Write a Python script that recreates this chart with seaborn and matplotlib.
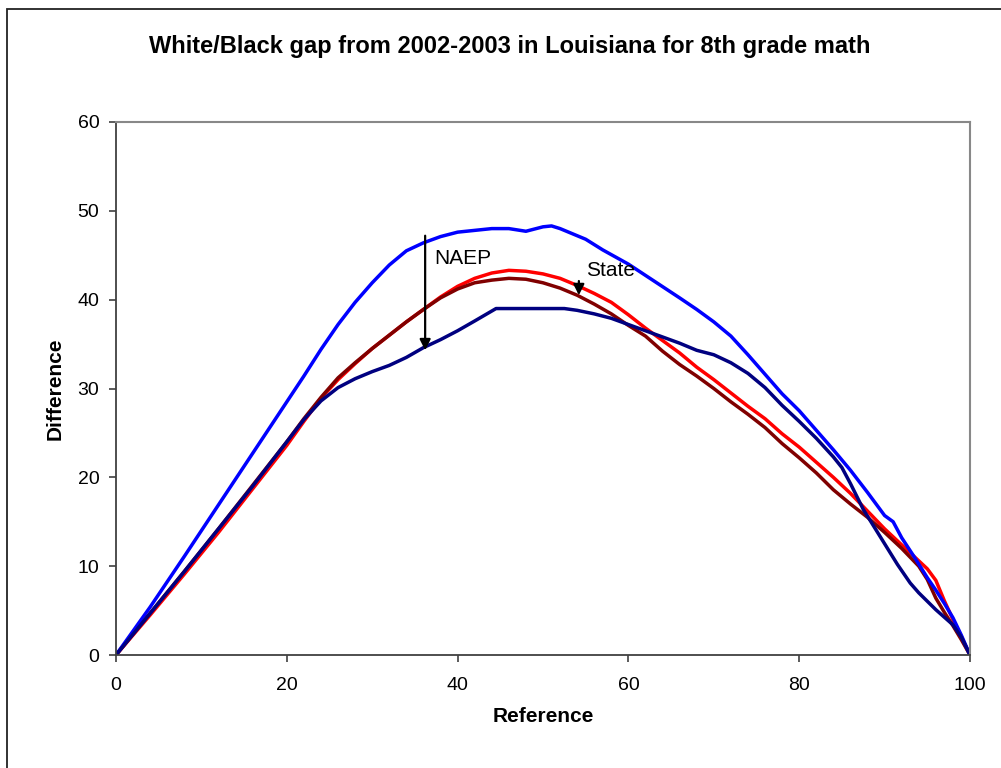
import matplotlib
matplotlib.use("Agg")
import matplotlib.pyplot as plt
from matplotlib.patches import Rectangle
import seaborn as sns

# Gap curves (difference vs. reference percentile)
naep_white_x = [0, 4, 8, 12, 16, 20, 22, 24, 26, 28, 30, 32, 34, 36, 38, 40, 42, 44, 46, 48,
                50, 51, 52, 53, 55, 57, 60, 63, 66, 68, 70, 72, 74, 76, 78, 80, 82, 84, 86,
                88, 90, 91, 92, 93.5, 95, 96, 97, 98, 99, 100]
naep_white_y = [0, 5.4, 11.1, 16.9, 22.7, 28.5, 31.4, 34.4, 37.2, 39.7, 41.9, 43.9, 45.5, 46.4,
                47.1, 47.6, 47.8, 48.0, 48.0, 47.7, 48.2, 48.3, 48.0, 47.6, 46.8, 45.6, 44.0,
                42.1, 40.2, 38.9, 37.5, 35.9, 33.8, 31.6, 29.4, 27.5, 25.3, 23.1, 20.8, 18.3,
                15.7, 15.0, 13.2, 11.0, 8.7, 7.3, 5.8, 4.2, 2.2, 0]

naep_black_x = [0, 4, 8, 12, 16, 20, 22, 24, 26, 28, 30, 32, 34, 36, 38, 40, 42, 44.5, 52.5,
                54, 56, 58, 60, 62, 64, 66, 68, 70, 72, 74, 76, 78, 80, 82, 84, 85, 86, 87.5,
                89.5, 91.5, 93, 94, 96, 98, 99, 100]
naep_black_y = [0, 4.7, 9.4, 14.2, 19.0, 24.0, 26.5, 28.6, 30.1, 31.1, 31.9, 32.6, 33.5, 34.6,
                35.5, 36.5, 37.6, 39.0, 39.0, 38.8, 38.4, 37.9, 37.2, 36.5, 35.8, 35.1, 34.3,
                33.8, 32.9, 31.7, 30.1, 28.1, 26.3, 24.4, 22.3, 21.1, 19.3, 16.4, 13.3, 10.2,
                8.1, 7.0, 5.1, 3.4, 2.0, 0]

state_white_x = [0, 4, 8, 12, 16, 20, 22, 24, 26, 28, 30, 32, 34, 36, 38, 40, 42, 44, 46, 48,
                 50, 52, 54, 56, 58, 60, 62, 64, 66, 68, 70, 72, 74, 76, 78, 80, 82, 84, 86,
                 88, 90, 92, 94, 95, 96, 97, 98, 99, 100]
state_white_y = [0, 4.5, 9.1, 13.8, 18.7, 23.6, 26.3, 28.9, 31.0, 32.8, 34.5, 36.0, 37.5, 38.9,
                 40.3, 41.5, 42.4, 43.0, 43.3, 43.2, 42.9, 42.4, 41.6, 40.7, 39.7, 38.3, 36.8,
                 35.4, 34.0, 32.4, 31.0, 29.5, 28.0, 26.6, 24.9, 23.4, 21.7, 20.0, 18.2, 16.2,
                 14.2, 12.4, 10.6, 9.7, 8.4, 6.1, 4.0, 2.0, 0]

state_black_x = [0, 4, 8, 12, 16, 20, 22, 24, 26, 28, 30, 32, 34, 36, 38, 40, 42, 44, 46, 48,
                 50, 52, 54, 56, 58, 60, 62, 64, 66, 68, 70, 72, 74, 76, 78, 80, 82, 84, 86,
                 88, 90, 92, 94, 95, 96, 97, 98, 99, 100]
state_black_y = [0, 4.7, 9.4, 14.2, 19.1, 24.0, 26.6, 29.0, 31.2, 32.9, 34.5, 36.0, 37.5, 38.9,
                 40.2, 41.2, 41.9, 42.2, 42.4, 42.3, 41.9, 41.3, 40.5, 39.5, 38.4, 37.1, 35.9,
                 34.2, 32.7, 31.4, 30.0, 28.5, 27.1, 25.6, 23.8, 22.2, 20.5, 18.6, 17.0, 15.5,
                 13.8, 12.0, 10.0, 8.5, 6.4, 4.8, 3.3, 1.7, 0]

x_ticks = [0, 20, 40, 60, 80, 100]
y_ticks = [0, 10, 20, 30, 40, 50, 60]

title = "White/Black gap from 2002-2003 in Louisiana for 8th grade math"

sns.set_style("white")
plt.rcParams["font.family"] = ["Liberation Sans", "DejaVu Sans"]
plt.rcParams["text.color"] = "black"
plt.rcParams["axes.labelcolor"] = "black"

fig = plt.figure(figsize=(10.01, 7.68), dpi=100)
ax = fig.add_axes([116 / 1001, 113 / 768, 854 / 1001, 533 / 768])

lw = 2.5
sns.lineplot(x=state_white_x, y=state_white_y, color="#FF0000", lw=lw, sort=False, ax=ax)
sns.lineplot(x=state_black_x, y=state_black_y, color="#800000", lw=lw, sort=False, ax=ax)
sns.lineplot(x=naep_white_x, y=naep_white_y, color="#0000FF", lw=lw, sort=False, ax=ax)
sns.lineplot(x=naep_black_x, y=naep_black_y, color="#000080", lw=lw, sort=False, ax=ax)

ax.set_xlim(0, 100)
ax.set_ylim(0, 60)
ax.set_xticks(x_ticks)
ax.set_yticks(y_ticks)
ax.tick_params(axis="both", direction="out", length=5, width=1.2, color="#404040",
               labelsize=14, labelcolor="black")
ax.tick_params(axis="y", pad=7, left=True)
ax.tick_params(axis="x", pad=11, bottom=True)

for side in ("left", "bottom"):
    ax.spines[side].set_color("#404040")
    ax.spines[side].set_linewidth(1.3)
for side in ("top", "right"):
    ax.spines[side].set_visible(True)
    ax.spines[side].set_color("#888888")
    ax.spines[side].set_linewidth(1.5)

ax.set_xlabel("Reference", fontsize=15, fontweight="bold", labelpad=9)
ax.set_ylabel("Difference", fontsize=15, fontweight="bold", labelpad=9)

# Arrows marking the NAEP and State gaps
arrow = dict(arrowstyle="-|>", color="black", lw=1.6, mutation_scale=16,
             shrinkA=0, shrinkB=0)
ax.annotate("", xy=(36.2, 34.3), xytext=(36.2, 47.2), arrowprops=arrow)
ax.text(37.3, 44.6, "NAEP", fontsize=15, ha="left", va="center")
ax.annotate("", xy=(54.2, 40.5), xytext=(54.2, 42.1), arrowprops=arrow)
ax.text(55.0, 43.3, "State", fontsize=15, ha="left", va="center")

fig.text(510 / 1001, 1 - 47 / 768, title, fontsize=17, fontweight="bold",
         ha="center", va="center")

# Outer chart-area frame
fig.patches.append(Rectangle((7 / 1001, -0.05), 1.1, 1.05 - 9 / 768, transform=fig.transFigure,
                             fill=False, edgecolor="#222222", lw=1.3))

fig.savefig("out.png", dpi=100)
